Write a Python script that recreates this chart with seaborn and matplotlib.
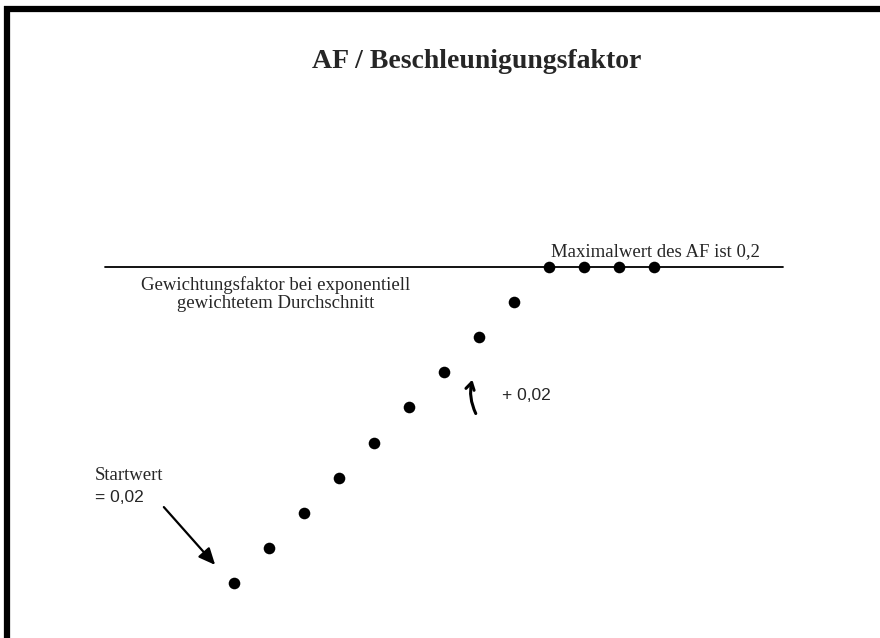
"""AF / Beschleunigungsfaktor - Seaborn"""
import pandas as pd
import seaborn as sns
import matplotlib.pyplot as plt
from matplotlib.lines import Line2D

periode = [1, 2, 3, 4, 5, 6, 7, 8, 9, 10, 11, 12, 13]
af = [0.02, 0.04, 0.06, 0.08, 0.10, 0.12, 0.14, 0.16, 0.18, 0.20, 0.20, 0.20, 0.20]
af_max = 0.2

df = pd.DataFrame({'periode': periode, 'af': af})

sns.set_style('white')
fig = plt.figure(figsize=(8.8, 6.38), dpi=100)
ax = fig.add_axes([0, 0, 1, 1])
ax.axis('off')

sns.scatterplot(data=df, x='periode', y='af', color='black', s=70,
                edgecolor='black', linewidth=0, ax=ax, legend=False, zorder=3)
ax.axhline(af_max, xmin=105 / 880, xmax=783 / 880, color='black', lw=1.3)

ax.set_xlim(-5.686, 19.457)
ax.set_ylim(-0.01133, 0.35208)

# frame (left + top edges only)
fig.add_artist(Line2D([7 / 880, 7 / 880], [0, 1 - 6 / 638], color='black', lw=4.5,
                      transform=fig.transFigure, solid_capstyle='butt'))
fig.add_artist(Line2D([4 / 880, 1], [1 - 9 / 638, 1 - 9 / 638], color='black', lw=4.5,
                      transform=fig.transFigure, solid_capstyle='butt'))

serif = 'Liberation Serif'
sans = 'Liberation Sans'
fig.text(477 / 880, 1 - 61 / 638, 'AF / Beschleunigungsfaktor', family=serif,
         weight='bold', fontsize=20, ha='center', va='center')
fig.text(276 / 880, 1 - 294 / 638, 'Gewichtungsfaktor bei exponentiell\ngewichtetem Durchschnitt',
         family=serif, fontsize=13.5, ha='center', va='center', linespacing=1.1)
fig.text(655 / 880, 1 - 252 / 638, 'Maximalwert des AF ist 0,2', family=serif,
         fontsize=13.5, ha='center', va='center')
fig.text(502 / 880, 1 - 395 / 638, '+ 0,02', family=sans, fontsize=12.5,
         ha='left', va='center')
fig.text(95 / 880, 1 - 475 / 638, 'Startwert', family=serif, fontsize=13.5,
         ha='left', va='center')
fig.text(95 / 880, 1 - 498 / 638, '= 0,02', family=sans, fontsize=12.5,
         ha='left', va='center')

ax.annotate('', xy=(217, 638 - 567), xytext=(162, 638 - 505),
            xycoords='figure pixels', textcoords='figure pixels',
            arrowprops=dict(arrowstyle='-|>,head_length=1.0,head_width=0.45',
                            color='black', lw=1.6))
ax.annotate('', xy=(473, 638 - 377), xytext=(477, 638 - 416),
            xycoords='figure pixels', textcoords='figure pixels',
            arrowprops=dict(arrowstyle='->,head_length=0.5,head_width=0.3',
                            connectionstyle='arc3,rad=-0.2', color='black', lw=2.2))

fig.savefig('out.png', dpi=100, facecolor='white')
